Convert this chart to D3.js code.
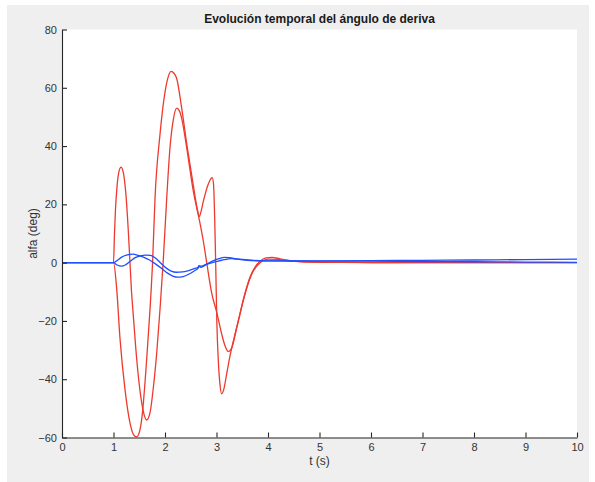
<!DOCTYPE html>
<html>
<head>
<meta charset="utf-8">
<script src="https://cdn.jsdelivr.net/npm/d3@7/dist/d3.min.js"></script>
<style>
  html, body { margin: 0; padding: 0; background: #ffffff; }
  svg { display: block; font-family: "Liberation Sans", Helvetica, Arial, sans-serif; }
</style>
</head>
<body>
<svg id="chart" width="595" height="482"></svg>
<script>
// Drift angle (alfa, deg) versus time (s) for four simulated responses.
const xTicks = [0, 1, 2, 3, 4, 5, 6, 7, 8, 9, 10];
const yTicks = [-60, -40, -20, 0, 20, 40, 60, 80];

// Red response 1: dips first, large swings, deepest minimum near -60.
const tRojo1 = [0, 1.0, 1.062, 1.126, 1.223, 1.32, 1.388, 1.45, 1.505, 1.553, 1.645, 1.709, 1.761, 1.806,
  1.903, 2.0, 2.058, 2.117, 2.175, 2.227, 2.324, 2.433, 2.55, 2.621, 2.666, 2.699, 2.744, 2.841, 2.893,
  2.918, 2.942, 2.965, 2.984, 3.006, 3.033, 3.063, 3.1, 3.141, 3.194, 3.262, 3.359, 3.456, 3.553,
  3.65, 3.748, 3.845, 3.961, 4.078, 4.233, 4.427, 4.718, 5.01, 6, 8, 10];
const alfaRojo1 = [0, 0, -9, -26, -43.5, -55, -59, -59.8, -58, -53, -33, -16, 1, 22,
  44, 58.5, 63.5, 65.6, 65, 63.2, 53, 39.5, 26.5, 19, 15.8, 17.5, 21, 27, 28.8,
  29.2, 27, 15, 0, -20, -33, -41, -45, -43.5, -38.5, -32, -24.5, -17.5, -10.5,
  -5, -1.5, 0.5, 1.6, 1.8, 1.3, 0.7, 0.25, 0.1, 0.05, 0, 0];

// Red response 2: rises first to about 33 deg.
const tRojo2 = [0, 1.0, 1.019, 1.039, 1.068, 1.097, 1.146, 1.19, 1.243, 1.287, 1.317, 1.35, 1.384,
  1.45, 1.515, 1.579, 1.645, 1.709, 1.773, 1.839, 1.903, 1.967, 2.033, 2.097, 2.161, 2.227, 2.282,
  2.324, 2.421, 2.55, 2.68, 2.748, 2.81, 2.907, 3.004, 3.101, 3.165, 3.229, 3.295, 3.392, 3.52,
  3.683, 3.845, 4.0, 4.194, 4.524, 4.816, 6, 10];
const alfaRojo2 = [0, 0, 10, 18.5, 26, 30.5, 32.8, 31, 23, 11, 1, -10, -18,
  -33, -44, -51, -54, -51.5, -43, -31, -16, 1, 22, 39.5, 49, 53, 52,
  49.5, 39.5, 24.5, 13.5, 7, 0, -10.5, -17, -24.5, -28.5, -30.5, -29.3, -22.5, -13,
  -4, 0, 1.2, 1.1, 0.4, 0.15, 0, 0];

// Blue response 1.
const tAzul1 = [0, 1.0, 1.06, 1.15, 1.25, 1.38, 1.48, 1.58, 1.7, 1.82, 1.95, 2.05, 2.15, 2.25, 2.35,
  2.47, 2.58, 2.64, 2.66, 2.7, 2.8, 2.92, 3.05, 3.15, 3.25, 3.4, 3.6, 4, 5, 6, 7, 8, 9, 10];
const alfaAzul1 = [0, 0, 0.6, 1.8, 2.6, 2.9, 2.5, 1.9, 0.9, -0.5, -2.2, -3.6, -4.6, -5.0, -4.8,
  -3.9, -2.7, -2.0, -1.3, -1.6, -0.6, 0.5, 1.4, 1.8, 1.7, 1.2, 0.8, 0.6, 0.6, 0.7, 0.8, 0.9, 1.05, 1.2];

// Blue response 2.
const tAzul2 = [0, 1.0, 1.07, 1.15, 1.23, 1.32, 1.42, 1.52, 1.62, 1.72, 1.82, 1.92, 2.02, 2.12, 2.22,
  2.34, 2.46, 2.58, 2.64, 2.66, 2.7, 2.8, 2.95, 3.05, 3.15, 3.28, 3.4, 3.6, 4, 5, 6, 7, 8, 9, 10];
const alfaAzul2 = [0, 0, -0.8, -1.2, -0.8, 0.4, 1.7, 2.3, 2.6, 2.5, 1.5, -0.2, -1.8, -2.9, -3.3,
  -3.2, -2.7, -2.0, -1.6, -1.0, -1.2, -0.6, 0.2, 0.6, 1.0, 1.4, 1.3, 0.9, 0.6, 0.55, 0.5, 0.4, 0.3, 0.2, 0.1];

const series = [
  { t: tRojo1, v: alfaRojo1, color: "#ee3a2e" },
  { t: tRojo2, v: alfaRojo2, color: "#ee3a2e" },
  { t: tAzul1, v: alfaAzul1, color: "#1f4fff" },
  { t: tAzul2, v: alfaAzul2, color: "#1f4fff" }
];

const svg = d3.select("#chart");
const W = 595, H = 482;
const plot = { left: 62, right: 577, top: 29.5, bottom: 437.5 };

// Figure background
svg.append("rect").attr("x", 7).attr("y", 5).attr("width", 582).attr("height", H - 5)
  .attr("fill", "#efefef");

// Axes background
svg.append("rect").attr("x", plot.left).attr("y", plot.top)
  .attr("width", plot.right - plot.left).attr("height", plot.bottom - plot.top)
  .attr("fill", "#ffffff");

const x = d3.scaleLinear().domain([0, 10]).range([plot.left, plot.right]);
const y = d3.scaleLinear().domain([-60, 80]).range([plot.bottom, plot.top]);

const line = d3.line()
  .x(d => x(d[0]))
  .y(d => y(d[1]))
  .curve(d3.curveMonotoneX);

const lines = svg.append("g").attr("fill", "none").attr("stroke-width", 1.3)
  .attr("stroke-linejoin", "round");
series.forEach(s => {
  const pts = s.t.map((t, i) => [t, s.v[i]]);
  lines.append("path").attr("d", line(pts)).attr("stroke", s.color);
});

// Axes with inward ticks
const xAxis = svg.append("g")
  .attr("transform", `translate(0,${plot.bottom})`)
  .call(d3.axisBottom(x).tickValues(xTicks).tickFormat(d3.format("d"))
    .tickSizeInner(-5).tickSizeOuter(0).tickPadding(6));
const yAxis = svg.append("g")
  .attr("transform", `translate(${plot.left},0)`)
  .call(d3.axisLeft(y).tickValues(yTicks).tickFormat(d3.format("d"))
    .tickSizeInner(-5).tickSizeOuter(0).tickPadding(5));

[xAxis, yAxis].forEach(g => {
  g.select(".domain").attr("stroke", "#262626").attr("stroke-width", 1.1);
  g.selectAll(".tick line").attr("stroke", "#262626").attr("stroke-width", 1.1);
  g.selectAll(".tick text").attr("fill", "#333333").attr("font-size", 11)
    .attr("font-family", "\"Liberation Sans\", Helvetica, Arial, sans-serif");
});

// Title and axis labels
svg.append("text").attr("x", (plot.left + plot.right) / 2).attr("y", 23)
  .attr("text-anchor", "middle").attr("font-size", 12).attr("font-weight", "bold")
  .attr("fill", "#1a1a1a").text("Evolución temporal del ángulo de deriva");

svg.append("text").attr("x", (plot.left + plot.right) / 2).attr("y", 465)
  .attr("text-anchor", "middle").attr("font-size", 12).attr("fill", "#333333")
  .text("t (s)");

svg.append("text")
  .attr("transform", `translate(37,${(plot.top + plot.bottom) / 2}) rotate(-90)`)
  .attr("text-anchor", "middle").attr("font-size", 12).attr("fill", "#333333")
  .text("alfa (deg)");
</script>
</body>
</html>
